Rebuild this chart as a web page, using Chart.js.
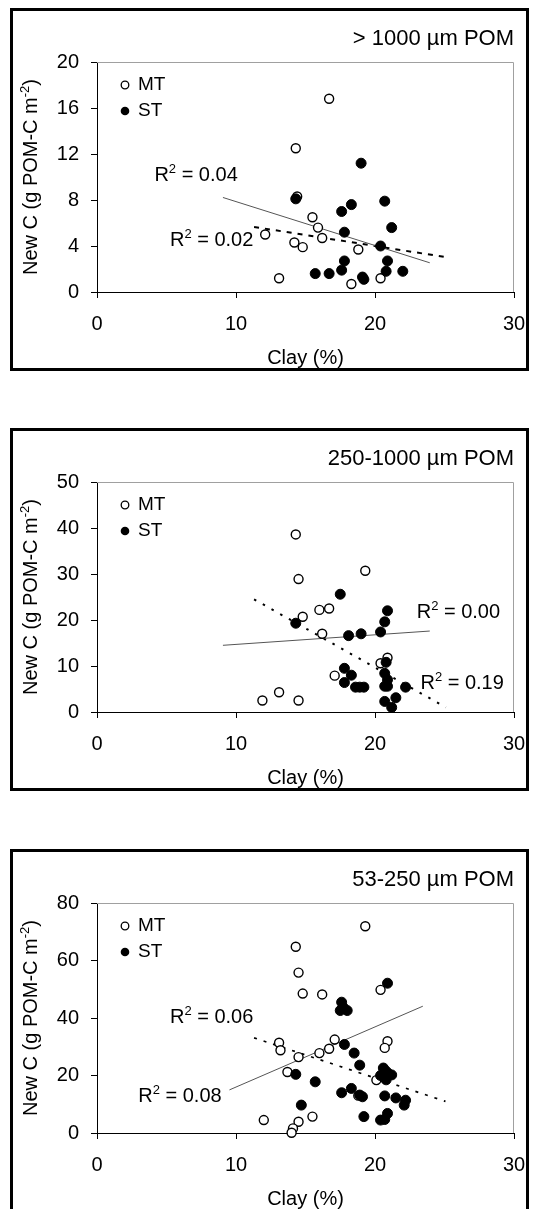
<!DOCTYPE html>
<html>
<head>
<meta charset="utf-8">
<script src="https://cdn.jsdelivr.net/npm/chart.js@4.4.1/dist/chart.umd.min.js"></script>
<style>
  html, body { margin: 0; padding: 0; background: #fff; overflow: hidden; }
  body { width: 540px; height: 1209px; position: relative; }
  .panel { position: absolute; left: 10px; width: 519px; height: 363px; border: 3px solid #000; box-sizing: border-box; background: #fff; }
  .panel canvas { display: block; }
</style>
</head>
<body>
<div class="panel" style="top:8px"><canvas id="c1" width="513" height="357"></canvas></div>
<div class="panel" style="top:428px"><canvas id="c2" width="513" height="357"></canvas></div>
<div class="panel" style="top:849px"><canvas id="c3" width="513" height="357"></canvas></div>
<script>
var FONT = '"Liberation Sans", Arial, Helvetica, sans-serif';

var panelTitles = ['> 1000 µm POM', '250-1000 µm POM', '53-250 µm POM'];
var seriesNames = ['MT', 'ST'];
var xMax = 30, xStep = 10;
var yMax = [20, 50, 80];
var yStep = [4, 10, 20];

// > 1000 um POM
var clayMT1 = [16.7, 14.3, 15.5, 15.9, 16.2, 12.1, 14.2, 14.8, 18.8, 13.1, 18.3, 20.4, 14.4];
var newCMT1 = [16.8, 12.5, 6.5, 5.6, 4.7, 5.0, 4.3, 3.9, 3.7, 1.2, 0.7, 1.2, 8.3];
var clayST1 = [19.0, 14.3, 20.7, 18.3, 17.6, 21.2, 17.8, 20.4, 17.8, 20.9, 17.6, 16.7, 15.7, 20.8, 22.0, 19.1, 19.2];
var newCST1 = [11.2, 8.1, 7.9, 7.6, 7.0, 5.6, 5.2, 4.0, 2.7, 2.7, 1.9, 1.6, 1.6, 1.8, 1.8, 1.3, 1.1];
var trendSolidX1 = [9.06, 23.94], trendSolidY1 = [8.22, 2.54];
var trendDashX1 = [11.3, 24.95], trendDashY1 = [5.66, 3.06];
var r2Values1 = ['0.04', '0.02'];

// 250-1000 um POM
var clayMT2 = [14.3, 14.5, 19.3, 16.0, 16.7, 14.8, 16.2, 20.9, 20.4, 17.1, 11.9, 13.1, 14.5];
var newCMT2 = [38.6, 28.9, 30.7, 22.2, 22.5, 20.7, 17.0, 11.8, 10.6, 7.9, 2.5, 4.3, 2.5];
var clayST2 = [17.5, 14.3, 20.9, 20.7, 20.4, 18.1, 19.0, 17.8, 18.3, 17.8, 18.6, 18.9, 19.2, 20.8, 20.7, 20.9, 20.7, 20.9, 22.2, 20.7, 21.5, 21.2];
var newCST2 = [25.6, 19.3, 22.0, 19.6, 17.4, 16.6, 17.0, 9.5, 8.0, 6.4, 5.4, 5.4, 5.4, 10.8, 8.4, 7.0, 5.6, 5.6, 5.4, 2.3, 3.1, 1.0];
var trendSolidX2 = [9.06, 23.94], trendSolidY2 = [14.5, 17.6];
var trendDashX2 = [11.3, 25.1], trendDashY2 = [24.5, 1.0];
var r2Values2 = ['0.00', '0.19'];

// 53-250 um POM
var clayMT3 = [19.3, 14.3, 14.5, 14.8, 16.2, 20.4, 17.1, 16.7, 16.0, 14.5, 13.1, 13.2, 13.7, 20.9, 20.7, 20.1, 18.8, 12.0, 15.5, 14.5, 14.1, 14.0];
var newCMT3 = [71.9, 64.8, 55.8, 48.5, 48.2, 49.8, 32.5, 29.3, 27.8, 26.4, 31.4, 28.8, 21.2, 31.9, 29.6, 18.4, 13.0, 4.5, 5.7, 3.9, 1.6, 0.1];
var clayST3 = [20.9, 17.6, 17.7, 18.0, 17.5, 17.8, 18.5, 18.9, 14.3, 15.7, 17.6, 18.3, 19.1, 18.9, 14.7, 19.2, 20.6, 20.8, 21.0, 20.4, 20.7, 21.2, 20.8, 20.7, 21.5, 22.2, 22.1, 20.9, 20.4, 20.7];
var newCST3 = [52.1, 45.5, 43.8, 42.6, 42.6, 30.8, 27.8, 23.6, 20.4, 17.8, 14.0, 15.5, 12.6, 13.2, 9.7, 5.7, 22.6, 21.5, 20.5, 20.0, 19.2, 20.2, 18.5, 12.9, 12.2, 11.4, 9.7, 6.8, 4.5, 4.7];
var trendSolidX3 = [9.53, 23.44], trendSolidY3 = [15.0, 44.1];
var trendDashX3 = [11.3, 25.07], trendDashY3 = [33.1, 11.0];
var r2Values3 = ['0.06', '0.08'];

function toPoints(xs, ys) {
	return xs.map(function(x, i) { return { x: x, y: ys[i] }; });
}

// text with superscript parts, parts = [[text, isSup], ...]
function richText(ctx, parts, x, y, align, size) {
	var supSize = Math.round(size * 0.65);
	var w = 0;
	parts.forEach(function(p) {
		ctx.font = (p[1] ? supSize : size) + 'px ' + FONT;
		w += ctx.measureText(p[0]).width;
	});
	var cx = align === 'right' ? x - w : (align === 'center' ? x - w / 2 : x);
	ctx.textAlign = 'left';
	ctx.textBaseline = 'middle';
	parts.forEach(function(p) {
		ctx.font = (p[1] ? supSize : size) + 'px ' + FONT;
		ctx.fillText(p[0], cx, p[1] ? y - 6 : y);
		cx += ctx.measureText(p[0]).width;
	});
}

var panelDecor = {
	id: 'panelDecor',
	beforeDatasetsDraw: function(chart) {
		var a = chart.chartArea, ctx = chart.ctx;
		ctx.save();
		ctx.strokeStyle = '#a0a0a0';
		ctx.lineWidth = 1;
		ctx.beginPath();
		ctx.moveTo(a.left, a.top + 0.5);
		ctx.lineTo(a.right - 0.5, a.top + 0.5);
		ctx.lineTo(a.right - 0.5, a.bottom);
		ctx.stroke();
		ctx.restore();
	},
	afterDraw: function(chart, args, opts) {
		var a = chart.chartArea, ctx = chart.ctx;
		var sx = chart.scales.x, sy = chart.scales.y;
		ctx.save();
		ctx.fillStyle = '#000';

		// panel title
		ctx.font = '22px ' + FONT;
		ctx.textAlign = 'right';
		ctx.textBaseline = 'middle';
		ctx.fillText(opts.title, a.right, a.top - 23);

		// legend
		var lx = a.left + 28;
		ctx.beginPath();
		ctx.arc(lx, a.top + 23, 3.8, 0, Math.PI * 2);
		ctx.fillStyle = '#fff';
		ctx.fill();
		ctx.lineWidth = 1.3;
		ctx.strokeStyle = '#000';
		ctx.stroke();
		ctx.beginPath();
		ctx.arc(lx, a.top + 49, 4.3, 0, Math.PI * 2);
		ctx.fillStyle = '#000';
		ctx.fill();
		ctx.font = '19px ' + FONT;
		ctx.textAlign = 'left';
		ctx.fillText(seriesNames[0], a.left + 41, a.top + 23);
		ctx.fillText(seriesNames[1], a.left + 41, a.top + 49);

		// y axis title
		ctx.save();
		ctx.translate(18, (a.top + a.bottom) / 2);
		ctx.rotate(-Math.PI / 2);
		richText(ctx, [['New C (g POM-C m', false], ['-2', true], [')', false]], 0, 0, 'center', 20);
		ctx.restore();

		// R2 labels
		opts.r2.forEach(function(l) {
			richText(ctx, [['R', false], ['2', true], [' = ' + l.text, false]],
				sx.getPixelForValue(l.x), sy.getPixelForValue(l.y), 'left', 20);
		});
		ctx.restore();
	}
};

Chart.defaults.font.family = FONT;
Chart.defaults.font.size = 20;
Chart.defaults.color = '#000';

function buildPanel(id, idx, mt, st, solid, dash, dashPattern, dashWidth, r2) {
	var ctx = document.getElementById(id).getContext('2d');
	return new Chart(ctx, {
		type: 'scatter',
		data: {
			datasets: [
				{
					label: seriesNames[1], data: st, order: 0, clip: false,
					pointRadius: 5, pointBackgroundColor: '#000', pointBorderColor: '#000', pointBorderWidth: 1
				},
				{
					label: seriesNames[0], data: mt, order: 1, clip: false,
					pointRadius: 4.5, pointBackgroundColor: '#fff', pointBorderColor: '#000', pointBorderWidth: 1.4
				},
				{
					type: 'line', label: 'trend1', data: solid, order: 2,
					borderColor: '#555', borderWidth: 1, pointRadius: 0, fill: false
				},
				{
					type: 'line', label: 'trend2', data: dash, order: 2,
					borderColor: '#000', borderWidth: dashWidth, borderDash: dashPattern, pointRadius: 0, fill: false
				}
			]
		},
		options: {
			responsive: false,
			animation: false,
			devicePixelRatio: 1,
			layout: { padding: { top: 51, right: 12, left: 0, bottom: 0 } },
			plugins: {
				legend: { display: false },
				tooltip: { enabled: false },
				panelDecor: { title: panelTitles[idx], r2: r2 }
			},
			scales: {
				x: {
					type: 'linear', min: 0, max: xMax,
					ticks: { stepSize: xStep, padding: 14, font: { size: 20 } },
					grid: { drawOnChartArea: false, drawTicks: true, tickLength: 6, color: '#000' },
					border: { color: '#000', width: 1 },
					title: { display: true, text: 'Clay (%)', font: { size: 20 }, padding: { top: 0, bottom: -2 } },
					afterFit: function(s) { s.height = 76; s.paddingLeft = 0; s.paddingRight = 0; }
				},
				y: {
					type: 'linear', min: 0, max: yMax[idx],
					ticks: { stepSize: yStep[idx], padding: 12, font: { size: 20 } },
					grid: { drawOnChartArea: false, drawTicks: true, tickLength: 6, color: '#000' },
					border: { color: '#000', width: 1 },
					afterFit: function(s) { s.width = 84; s.paddingTop = 0; s.paddingBottom = 0; }
				}
			}
		},
		plugins: [panelDecor]
	});
}

buildPanel('c1', 0, toPoints(clayMT1, newCMT1), toPoints(clayST1, newCST1),
	toPoints(trendSolidX1, trendSolidY1), toPoints(trendDashX1, trendDashY1), [5, 6], 2,
	[{ text: r2Values1[0], x: 4.13, y: 10.1 }, { text: r2Values1[1], x: 5.25, y: 4.5 }]);

buildPanel('c2', 1, toPoints(clayMT2, newCMT2), toPoints(clayST2, newCST2),
	toPoints(trendSolidX2, trendSolidY2), toPoints(trendDashX2, trendDashY2), [2.5, 7.5], 2,
	[{ text: r2Values2[0], x: 23.0, y: 21.7 }, { text: r2Values2[1], x: 23.27, y: 6.3 }]);

buildPanel('c3', 2, toPoints(clayMT3, newCMT3), toPoints(clayST3, newCST3),
	toPoints(trendSolidX3, trendSolidY3), toPoints(trendDashX3, trendDashY3), [3, 7], 1.7,
	[{ text: r2Values3[0], x: 5.25, y: 40.2 }, { text: r2Values3[1], x: 2.97, y: 12.7 }]);
</script>
</body>
</html>
